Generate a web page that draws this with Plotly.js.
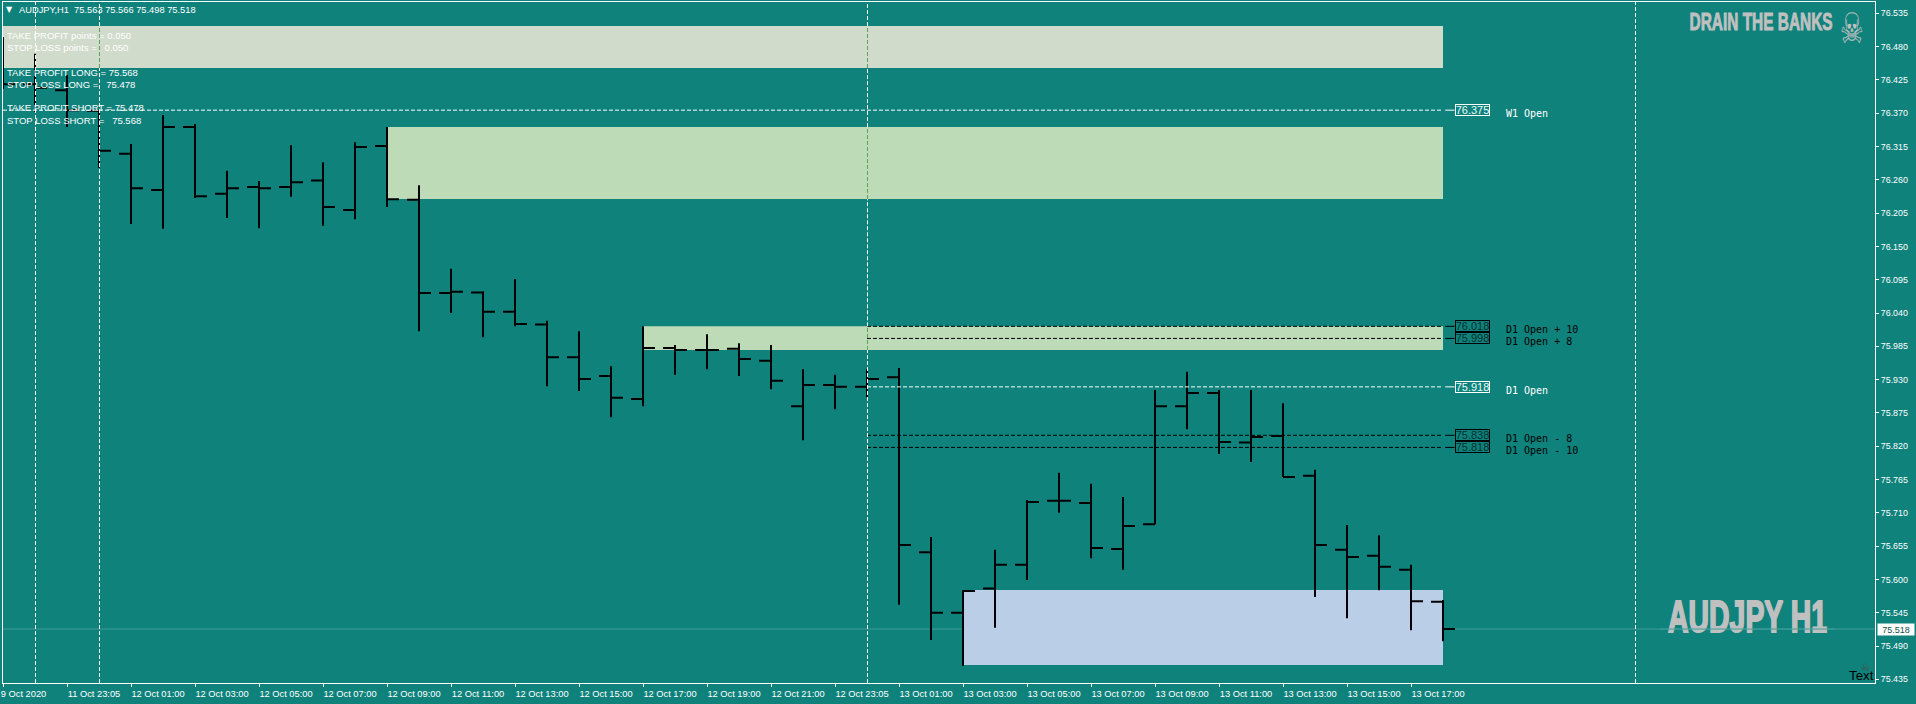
<!DOCTYPE html>
<html>
<head>
<meta charset="utf-8">
<script src="https://cdn.plot.ly/plotly-3.0.1.min.js"></script>
<style>html,body{margin:0;padding:0;background:#0f827c;overflow:hidden}#chart{width:1916px;height:704px}</style>
</head>
<body>
<div id="chart"></div>
<script>
const opens  = [76.450,76.418,76.408,76.374,76.303,76.243,76.347,76.237,76.248,76.248,76.259,76.210,76.316,76.227,76.073,76.074,76.042,76.021,75.967,75.936,75.898,75.982,75.979,75.981,75.961,75.886,75.921,75.918,75.934,75.645,75.545,75.585,75.624,75.730,75.726,75.650,75.691,75.886,75.908,75.826,75.837,75.771,75.649,75.639,75.616,75.563];
const highs  = [76.496,76.468,76.433,76.375,76.319,76.367,76.352,76.275,76.258,76.317,76.289,76.322,76.347,76.251,76.113,76.076,76.096,76.027,76.010,75.952,76.018,75.987,76.005,75.990,75.987,75.947,75.938,75.947,75.949,75.670,75.582,75.649,75.731,75.776,75.758,75.736,75.913,75.943,75.913,75.913,75.891,75.781,75.690,75.673,75.624,75.566];
const lows   = [76.410,76.372,76.347,76.280,76.187,76.179,76.230,76.197,76.180,76.232,76.184,76.195,76.215,76.010,76.040,76.000,76.018,75.919,75.911,75.868,75.886,75.938,75.947,75.936,75.914,75.830,75.881,75.901,75.558,75.500,75.457,75.520,75.599,75.710,75.635,75.616,75.691,75.848,75.807,75.794,75.769,75.571,75.536,75.582,75.516,75.498];
const closes = [76.418,76.412,76.375,76.308,76.246,76.347,76.233,76.246,76.246,76.256,76.215,76.314,76.228,76.073,76.075,76.042,76.022,75.967,75.931,75.900,75.982,75.979,75.979,75.964,75.928,75.921,75.918,75.931,75.657,75.545,75.581,75.624,75.728,75.730,75.652,75.688,75.886,75.908,75.827,75.835,75.769,75.657,75.637,75.621,75.564,75.518];

const xTickIndex = [0,2,4,6,8,10,12,14,16,18,20,22,24,26,28,30,32,34,36,38,40,42,44];
const xTickText = ["9 Oct 2020\u00a0\u00a0\u00a0\u00a0\u00a0","11 Oct 23:05","12 Oct 01:00","12 Oct 03:00","12 Oct 05:00","12 Oct 07:00","12 Oct 09:00","12 Oct 11:00","12 Oct 13:00","12 Oct 15:00","12 Oct 17:00","12 Oct 19:00","12 Oct 21:00","12 Oct 23:05","13 Oct 01:00","13 Oct 03:00","13 Oct 05:00","13 Oct 07:00","13 Oct 09:00","13 Oct 11:00","13 Oct 13:00","13 Oct 15:00","13 Oct 17:00"];
const yTicks = [76.535,76.480,76.425,76.370,76.315,76.260,76.205,76.150,76.095,76.040,75.985,75.930,75.875,75.820,75.765,75.710,75.655,75.600,75.545,75.490,75.435];

const zoneStart  = [0,12,20,30];
const zoneEnd    = [45,45,45,45];
const zoneTop    = [76.514,76.347,76.018,75.5825];
const zoneBottom = [76.4447,76.2283,75.979,75.4586];
const zoneFill   = ["#d1dbcb","#bedbb7","#bedbb7","#baceE7"];

const levelPrices = [76.375,76.018,75.998,75.918,75.838,75.818];
const levelNames  = ["W1 Open","D1 Open + 10","D1 Open + 8","D1 Open","D1 Open - 8","D1 Open - 10"];
const levelStart  = [0,27,27,27,27,27];
const levelColor  = ["#ffffff","#000000","#000000","#ffffff","#000000","#000000"];

const sessionBreaks = [1,3,27,51];
const greenInBands = [3,27];
const bidPrice = 75.518;

const hdr = ["AUDJPY,H1\u00a0\u00a075.563 75.566 75.498 75.518"];
const infoLines = ["TAKE PROFIT points = 0.050","STOP LOSS points =\u00a0\u00a0\u00a00.050","TAKE PROFIT LONG = 75.568","STOP LOSS LONG =\u00a0\u00a0\u00a075.478","TAKE PROFIT SHORT = 75.478","STOP LOSS SHORT =\u00a0\u00a0\u00a075.568"];
const infoRows = [36,48,72,84,108,120];

const TEAL = "#0f827c", WHITE = "#ffffff", SILVER = "#c0c0c0", SANS = "Liberation Sans, Arial, sans-serif", MONO = "DejaVu Sans Mono, monospace";
const M = {l:3, r:41, t:2, b:21};
const PW = 1916-M.l-M.r, PH = 704-M.t-M.b;
const xRange = [0, PW/32];
const yTop = 76.535 + 11.3*0.00165166, yBot = 76.535 - 669.7*0.00165166;
const px = v => (v-M.l)/PW;
const py = v => 1-(v-M.t)/PH;
const idx = Array.from(opens.keys());

const traces = [
  {type:"ohlc", x:idx, open:opens, high:highs, low:lows, close:closes, tickwidth:0.375,
   increasing:{line:{color:"#000000",width:2}}, decreasing:{line:{color:"#000000",width:2}}, hoverinfo:"skip", showlegend:false},
  {type:"scatter", mode:"text", x:[(1747.5-M.l)/32], y:[75.5315], text:["AUDJPY H1"], textposition:"middle center",
   textfont:{family:SANS, size:44, color:SILVER, weight:700}, cliponaxis:false, hoverinfo:"skip", showlegend:false}
];

const shapes = [];
zoneStart.forEach((s,i)=>shapes.push({type:"rect",layer:"below",xref:"x",yref:"y",x0:s,x1:zoneEnd[i],y0:zoneBottom[i],y1:zoneTop[i],fillcolor:zoneFill[i],line:{width:0}}));

// bid line
shapes.push({type:"line",layer:"below",xref:"paper",yref:"y",x0:0,x1:1,y0:bidPrice,y1:bidPrice,line:{color:"#3f9d99",width:1}});
shapes.push({type:"line",layer:"above",xref:"x",yref:"y",x0:(1660-M.l)/32,x1:(1835-M.l)/32,y0:bidPrice,y1:bidPrice,line:{color:"#3f9d99",width:1}});

// price levels
const LINE_OFF = 0.5/32;
levelPrices.forEach((p,i)=>{
  shapes.push({type:"line",layer:"above",xref:"x",yref:"y",x0:levelStart[i],x1:45,y0:p,y1:p,line:{color:levelColor[i],width:1,dash:"4px,2px"}});
  shapes.push({type:"line",layer:"above",xref:"x",yref:"y",x0:45.07,x1:45.36,y0:p,y1:p,line:{color:levelColor[i],width:1}});
});

// vertical session separators
sessionBreaks.forEach(b=>{
  let cuts = [[yBot,yTop,WHITE]];
  if (greenInBands.includes(b)) {
    cuts = [];
    const bands = zoneStart.map((s,i)=>[s,zoneTop[i],zoneBottom[i]]).filter(z=>z[0]<=b).sort((a,c)=>c[1]-a[1]);
    let cur = yTop;
    bands.forEach(z=>{ cuts.push([z[1],cur,WHITE]); cuts.push([z[2],z[1],"#5aa55a"]); cur = z[2]; });
    cuts.push([yBot,cur,WHITE]);
  }
  cuts.forEach(c=>shapes.push({type:"line",layer:"above",xref:"x",yref:"y",x0:b+LINE_OFF,x1:b+LINE_OFF,y0:c[0],y1:c[1],line:{color:c[2],width:1,dash:"4px,2px"}}));
});

const annotations = [];
const txt = (text,x,y,o={}) => annotations.push(Object.assign({text,xref:"paper",yref:"paper",x:px(x),y:py(y),xanchor:"left",yanchor:"middle",showarrow:false,borderpad:0,font:{family:SANS,size:9.5,color:WHITE}},o));

txt("\u25BC",4.5,10,{font:{family:"DejaVu Sans",size:8,color:WHITE}});
txt(hdr[0],17.5,10.5,{font:{family:SANS,size:9.3,color:WHITE}});
infoLines.forEach((t,i)=>txt(t,5.8,infoRows[i]));

levelPrices.forEach((p,i)=>{
  annotations.push({text:p.toFixed(3),xref:"x",yref:"y",x:(1472-M.l)/32,y:p,xanchor:"center",yanchor:"middle",showarrow:false,
    width:33,height:10,borderwidth:1,borderpad:0,bordercolor:levelColor[i],font:{family:SANS,size:11,color:levelColor[i]==="#000000"?"#00302e":"#e8fbf9"}});
  annotations.push({text:levelNames[i],xref:"x",yref:"y",x:(1504.5-M.l)/32,y:p,yshift:-3.4,xanchor:"left",yanchor:"middle",showarrow:false,borderpad:0,font:{family:MONO,size:10,color:levelColor[i]}});
});

// watermarks
txt("DRAIN THE BANKS",1761.3,21.7,{xanchor:"center",font:{family:SANS,size:23.3,color:SILVER,weight:700}});
txt("\u2620",1852,29,{xanchor:"center",font:{family:"DejaVu Sans",size:42,color:SILVER}});
txt("\u2620",1865,667,{xanchor:"center",font:{family:"DejaVu Sans",size:10,color:"#46504e"}});
txt("Text",1848,675,{font:{family:SANS,size:13.3,color:"#000000"}});

// bid label
txt(bidPrice.toFixed(3),1877,629.3,{bgcolor:WHITE,width:36,height:11,xanchor:"left",font:{family:SANS,size:9,color:"#0f4f4c"}});

const layout = {
  width:1916,height:704,margin:M,paper_bgcolor:TEAL,plot_bgcolor:TEAL,showlegend:false,
  font:{family:SANS,color:WHITE},
  xaxis:{type:"linear",range:xRange,tickmode:"array",tickvals:xTickIndex,ticktext:xTickText,ticks:"outside",ticklen:3,tickwidth:1,tickcolor:WHITE,
    showgrid:false,zeroline:false,showline:true,linecolor:WHITE,linewidth:1,mirror:true,tickangle:0,ticklabelshift:27,ticklabelstandoff:-1,
    tickfont:{family:SANS,size:9.3,color:WHITE},rangeslider:{visible:false},fixedrange:true,automargin:false},
  yaxis:{type:"linear",side:"right",range:[yBot,yTop],tickmode:"array",tickvals:yTicks,ticktext:yTicks.map(v=>v.toFixed(3)),ticks:"outside",ticklen:3,tickwidth:1,tickcolor:WHITE,
    showgrid:false,zeroline:false,showline:true,linecolor:WHITE,linewidth:1,mirror:true,
    tickfont:{family:SANS,size:8.9,color:WHITE},fixedrange:true,automargin:false},
  shapes,annotations
};

Plotly.newPlot("chart",traces,layout,{staticPlot:true,displayModeBar:false}).then(gd=>{
  gd.querySelectorAll("text").forEach(t=>{
    const s = t.textContent;
    if (s==="AUDJPY H1"){ t.setAttribute("textLength","159"); t.setAttribute("lengthAdjust","spacingAndGlyphs"); t.style.stroke=SILVER; t.style.strokeWidth="2px"; }
    if (s==="DRAIN THE BANKS"){ t.setAttribute("textLength","143"); t.setAttribute("lengthAdjust","spacingAndGlyphs"); t.style.stroke=SILVER; t.style.strokeWidth="0.9px"; }
    if (s==="\u2620" && t.style.fontSize==="42px"){ t.setAttribute("textLength","24"); t.setAttribute("lengthAdjust","spacingAndGlyphs"); }
  });
});
</script>
</body>
</html>
